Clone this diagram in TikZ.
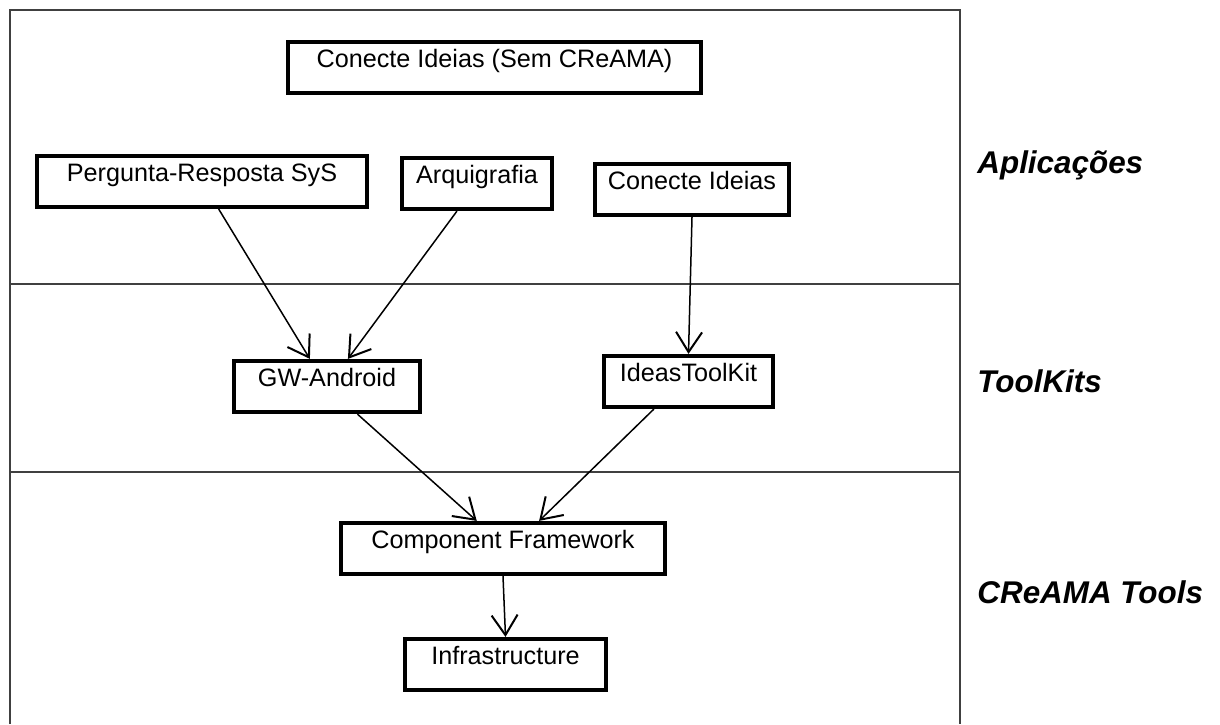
\documentclass[tikz,border=0pt]{standalone}
\usepackage{fontspec}
\setmainfont{Liberation Sans}
\usetikzlibrary{arrows.meta,calc}

\tikzset{
  layerline/.style={draw=black!75, line width=0.75pt},
  box/.style={draw, line width=2.1pt, inner xsep=0pt, inner ysep=0pt,
    text height=12.5pt, text depth=13pt, align=center,
    font=\fontsize{12.6}{14}\selectfont},
  link/.style={line width=0.75pt,
    -{Straight Barb[length=10pt,width=13pt,line width=1pt]}},
  layername/.style={anchor=base west, inner sep=0pt,
    font=\fontsize{15.7}{18}\selectfont\bfseries\itshape}
}

\begin{document}
\begin{tikzpicture}[x=0.5pt, y=-0.5pt]
  \useasboundingbox (0,0) rectangle (1220,724);

  % frame and layer separators
  \draw[layerline] (10,724) -- (10,10) -- (960,10) -- (960,724);
  \draw[layerline] (10,284) -- (960,284);
  \draw[layerline] (10,472) -- (960,472);

  % layer names
  \node[layername] (lapp) at (977,173) {Aplicações};
  \node[layername] (ltk)  at (977,392) {ToolKits};
  \node[layername] (ltl)  at (977,603) {CReAMA Tools};

  % applications
  \node[box, minimum width=206.5pt] (top)  at (494.5,67.5) {Conecte Ideias (Sem CReAMA)};
  \node[box, minimum width=165pt]   (perg) at (202,181.5)  {Pergunta-Resposta SyS};
  \node[box, minimum width=75pt]    (arq)  at (477,183.5)  {Arquigrafia};
  \node[box, minimum width=97pt]    (con)  at (692,189.5)  {Conecte Ideias};

  % toolkits
  \node[box, minimum width=93pt]    (gw)   at (327,386.5)  {GW-Android};
  \node[box, minimum width=84.5pt]  (itk)  at (688.5,381.5) {IdeasToolKit};

  % CReAMA tools
  \node[box, minimum width=162pt]   (cf)   at (503,548.5)  {Component Framework};
  \node[box, minimum width=100.5pt] (inf)  at (505.5,664.5) {Infrastructure};

  % dependencies
  \draw[link] ($(perg.south west)!0.55!(perg.south east)$) -- ($(gw.north west)!0.41!(gw.north east)$);
  \draw[link] ($(arq.south west)!0.37!(arq.south east)$) -- ($(gw.north west)!0.61!(gw.north east)$);
  \draw[link] (con.south) -- (itk.north);
  \draw[link] ($(gw.south west)!0.66!(gw.south east)$) -- ($(cf.north west)!0.42!(cf.north east)$);
  \draw[link] ($(itk.south west)!0.30!(itk.south east)$) -- ($(cf.north west)!0.61!(cf.north east)$);
  \draw[link] (cf.south) -- (inf.north);
\end{tikzpicture}
\end{document}
